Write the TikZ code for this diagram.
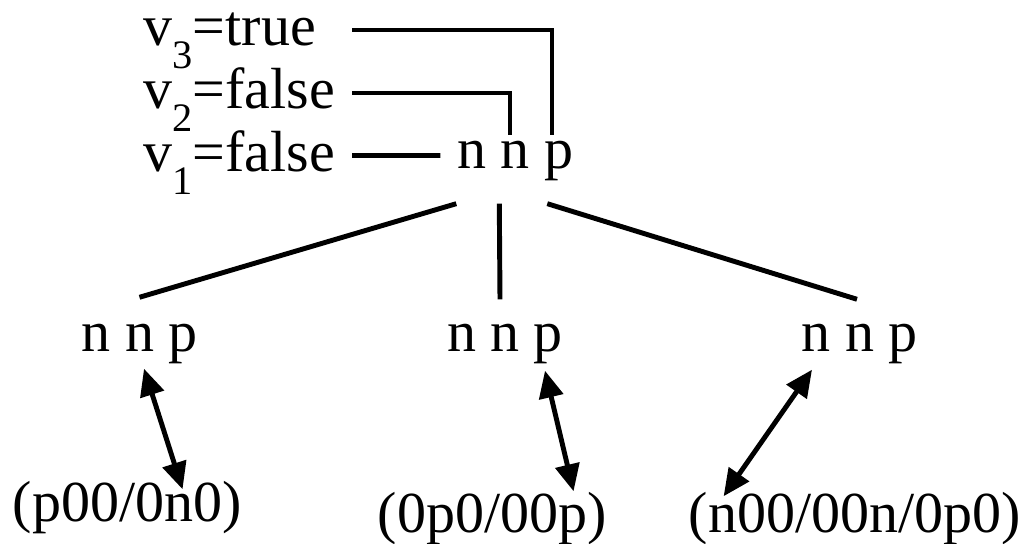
\documentclass[tikz,border=0pt]{standalone}
\usepackage{fontspec}
\setmainfont{Liberation Serif}
\usetikzlibrary{arrows.meta}
\newcommand{\vsub}[1]{\raisebox{-0.38em}{\fontsize{11.5}{12}\selectfont #1}}
\begin{document}
\begin{tikzpicture}
        [txt/.style={inner sep=0pt, text height=0.40cm, text depth=0.13cm, font=\fontsize{16.5}{20}\selectfont},
        link/.style={line width=1.4pt},
        >={Triangle[length=2.7mm,width=2.4mm]}]
        \useasboundingbox (0,0) rectangle (10.24,-5.44);
        % variables
        \node[txt, anchor=base west] (v3) at (1.43,-0.46) {v\vsub{3}=true};
        \node[txt, anchor=base west] (v2) at (1.43,-1.09) {v\vsub{2}=false};
        \node[txt, anchor=base west] (v1) at (1.43,-1.72) {v\vsub{1}=false};
        \coordinate (s3) at (3.52,-0.30);
        \coordinate (s2) at (3.52,-0.93);
        \coordinate (s1) at (3.52,-1.555);
        % root
        \node[txt, anchor=base] (rA) at (4.715,-1.69) {n};
        \node[txt, anchor=base] (rB) at (5.145,-1.69) {n};
        \node[txt, anchor=base] (rC) at (5.585,-1.69) {p};
        % children
        \node[txt, anchor=base] (c1) at (1.395,-3.52) {n n p};
        \node[txt, anchor=base] (c2) at (5.05,-3.52) {n n p};
        \node[txt, anchor=base] (c3) at (8.595,-3.52) {n n p};
        % labels
        \node[txt, anchor=base west] (b1) at (0.12,-5.22) {(p00/0n0)};
        \node[txt, anchor=base west] (b2) at (3.77,-5.33) {(0p0/00p)};
        \node[txt, anchor=base west] (b3) at (6.88,-5.33) {(n00/00n/0p0)};

        \draw[link] (s3) -| ([shift={(-0.65mm,-0.7mm)}]rC.north);
        \draw[link] (s2) -| ([shift={(-0.45mm,-0.7mm)}]rB.north);
        \draw[link] (s1) -- ([xshift=-1.6mm]rA.west);

        \draw[link] ([yshift=-2.1mm]rA.south west) -- ([yshift=1.4mm]c1.north);
        \draw[link] ([yshift=-2.1mm]rB.south west) -- ([shift={(-0.5mm,1.2mm)}]c2.north);
        \draw[link] ([shift={(0.4mm,-2.1mm)}]rC.south west) -- ([shift={(-0.25mm,1.2mm)}]c3.north);

        \draw[link, <->] ([shift={(0.45mm,-0.3mm)}]c1.south) -- ([shift={(5.55mm,-0.8mm)}]b1.north);
        \draw[link, <->] ([shift={(4mm,-0.5mm)}]c2.south) -- ([shift={(8.15mm,0.1mm)}]b2.north);
        \draw[link, <->] ([shift={(-4.75mm,-0.4mm)}]c3.south) -- ([shift={(-13.1mm,-0.4mm)}]b3.north);
    \end{tikzpicture}
\end{document}
